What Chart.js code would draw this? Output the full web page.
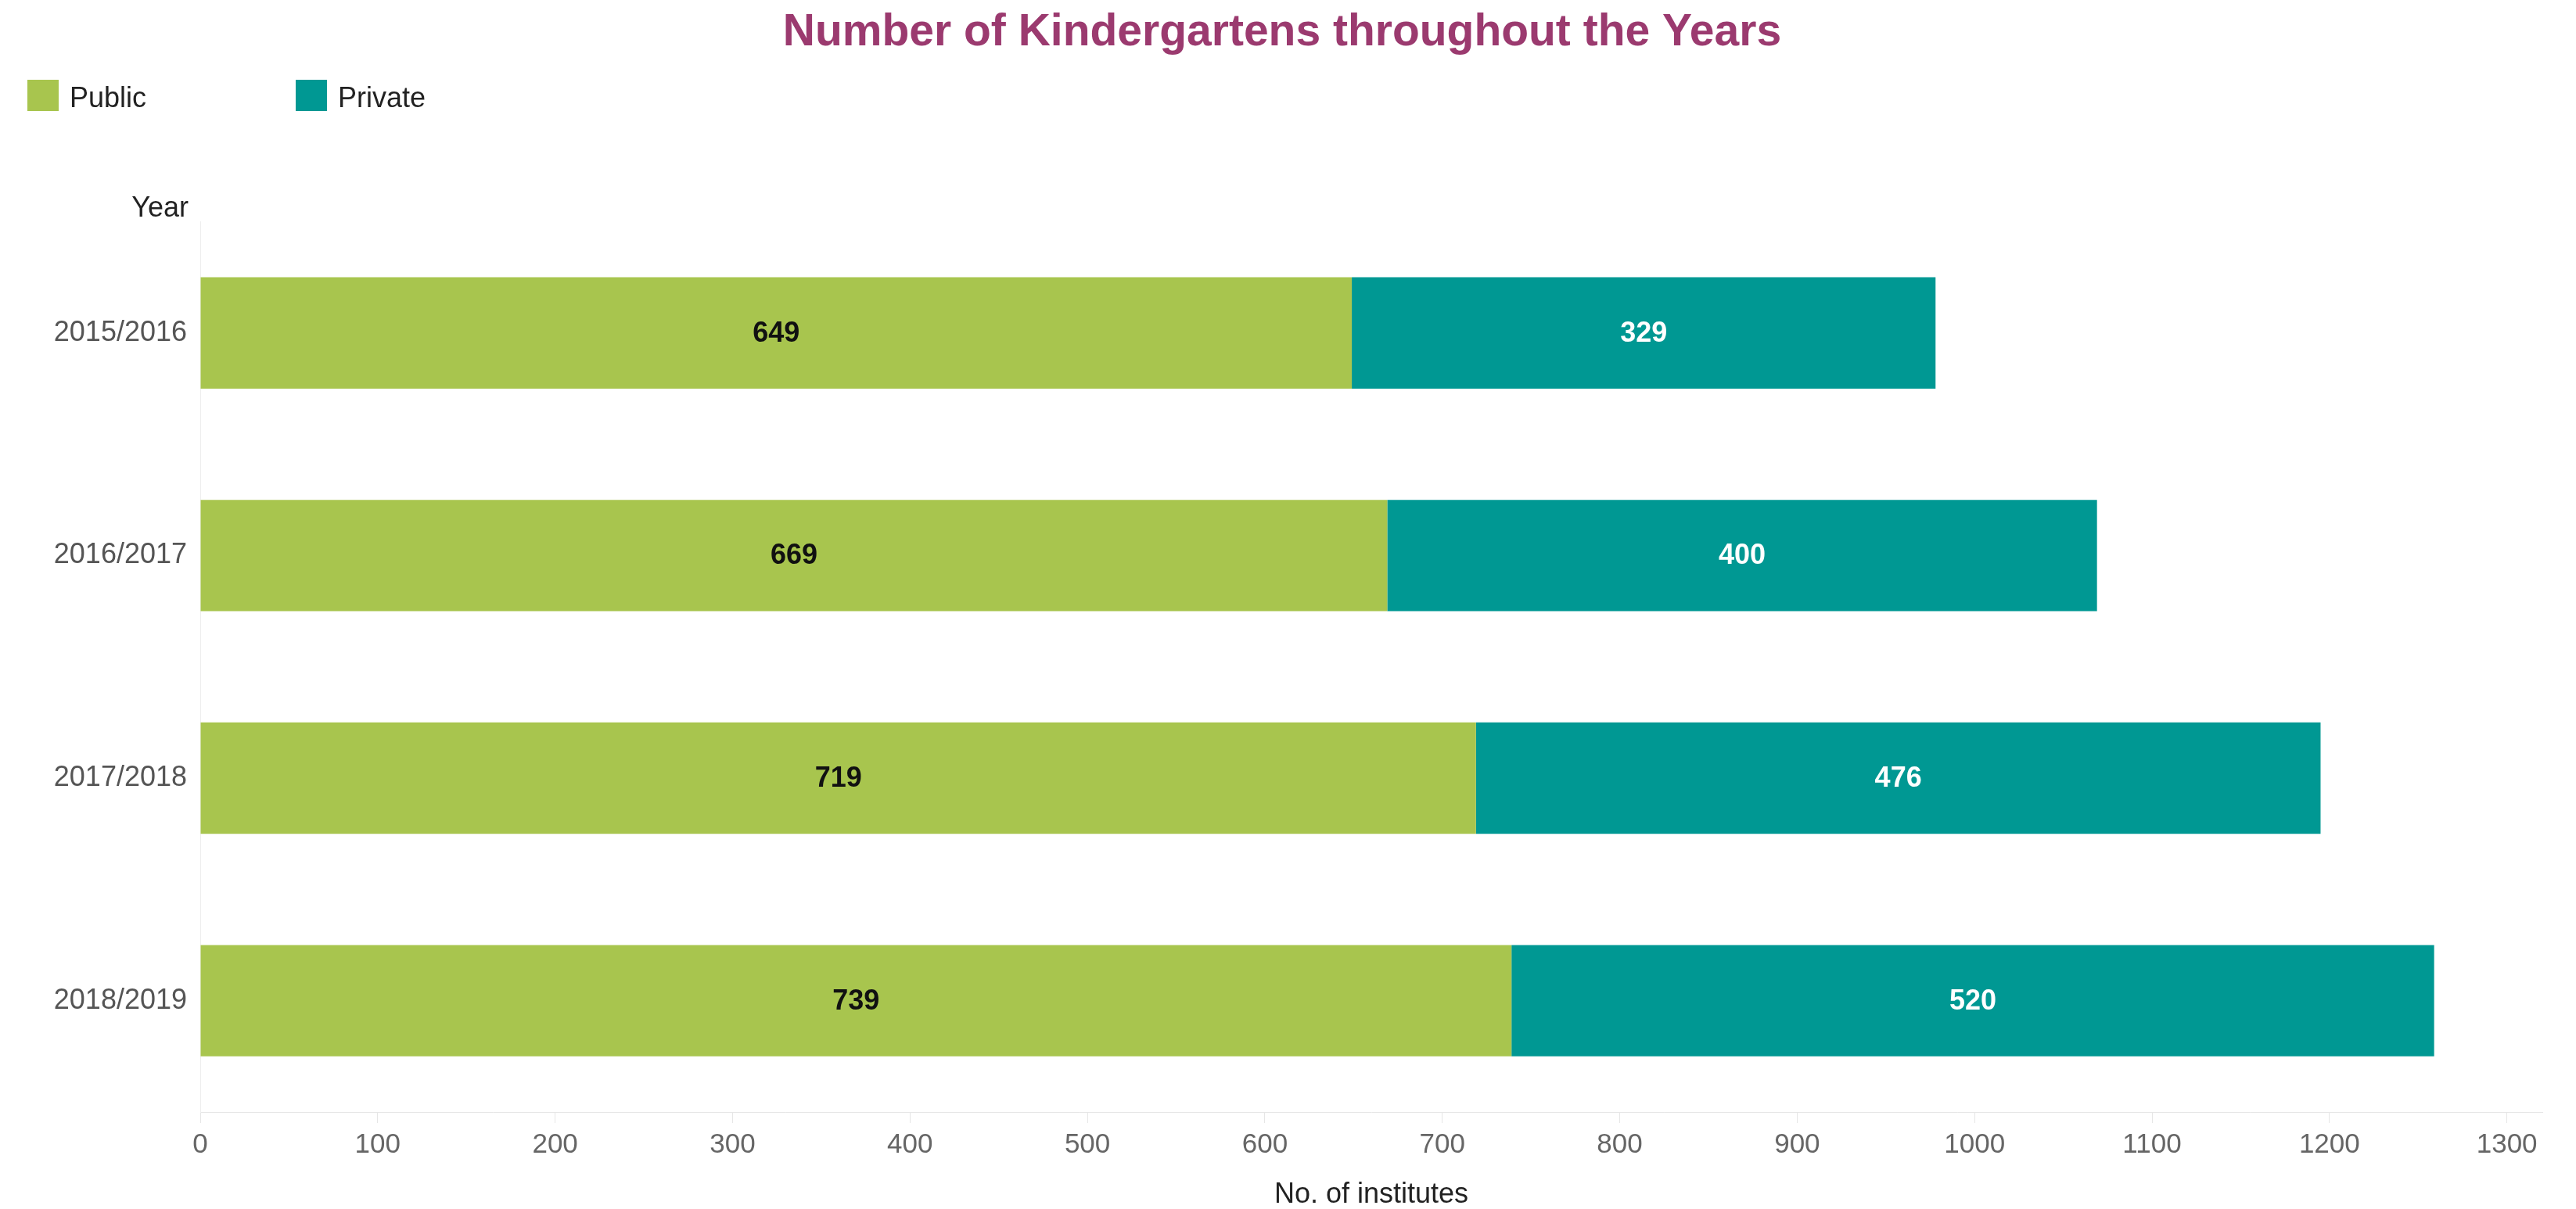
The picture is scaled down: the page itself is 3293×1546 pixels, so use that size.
<!DOCTYPE html>
<html>
<head>
<meta charset="utf-8">
<title>Number of Kindergartens throughout the Years</title>
<script src="https://cdn.jsdelivr.net/npm/chart.js@4.4.1/dist/chart.umd.min.js"></script>
<style>
  html, body { margin: 0; padding: 0; background: #fff; }
  #wrap { width: 3293px; height: 1546px; position: relative; }
</style>
</head>
<body>
<div id="wrap"><canvas id="kgChart"></canvas></div>
<script>
const years = ['2015/2016', '2016/2017', '2017/2018', '2018/2019'];
const seriesNames = ['Public', 'Private'];
const publicCounts = [649, 669, 719, 739];
const privateCounts = [329, 400, 476, 520];
const xTickValues = [0, 100, 200, 300, 400, 500, 600, 700, 800, 900, 1000, 1100, 1200, 1300];

const FONT = '"Liberation Sans", Arial, Helvetica, sans-serif';
const GREEN = '#a8c54e';
const TEAL = '#009893';
const labelColors = ['#111111', '#ffffff'];

Chart.defaults.font.family = FONT;

// value labels in the middle of each bar segment
const barLabels = {
    id: 'barLabels',
    afterDatasetsDraw(chart) {
        const ctx = chart.ctx;
        ctx.save();
        ctx.font = 'bold 36px ' + FONT;
        ctx.textAlign = 'center';
        ctx.textBaseline = 'middle';
        chart.data.datasets.forEach((ds, di) => {
            chart.getDatasetMeta(di).data.forEach((bar, i) => {
                const c = bar.getCenterPoint();
                ctx.fillStyle = labelColors[di];
                ctx.fillText(ds.data[i], c.x, c.y + 1);
            });
        });
        ctx.restore();
    }
};

// legend row at the top left, plus the "Year" caption over the category axis
const topLegend = {
    id: 'topLegend',
    afterDraw(chart) {
        const ctx = chart.ctx;
        const slots = [35, 378];
        ctx.save();
        ctx.font = '36px ' + FONT;
        ctx.textBaseline = 'alphabetic';
        ctx.textAlign = 'left';
        chart.data.datasets.forEach((ds, i) => {
            ctx.fillStyle = ds.backgroundColor;
            ctx.fillRect(slots[i], 102, 40, 40);
            ctx.fillStyle = '#222222';
            ctx.fillText(ds.label, slots[i] + 54, 137);
        });
        ctx.textAlign = 'right';
        ctx.fillText('Year', 241, 277);
        ctx.restore();
    }
};

new Chart(document.getElementById('kgChart'), {
    type: 'bar',
    data: {
        labels: years,
        datasets: [
            {
                label: seriesNames[0],
                data: publicCounts,
                backgroundColor: GREEN,
                borderWidth: 0,
                barPercentage: 0.5,
                categoryPercentage: 1.0
            },
            {
                label: seriesNames[1],
                data: privateCounts,
                backgroundColor: TEAL,
                borderWidth: 0,
                barPercentage: 0.5,
                categoryPercentage: 1.0
            }
        ]
    },
    options: {
        indexAxis: 'y',
        responsive: true,
        maintainAspectRatio: false,
        animation: false,
        layout: {
            padding: { left: 28, right: 43, top: 0, bottom: 0 }
        },
        scales: {
            x: {
                stacked: true,
                min: 0,
                max: 1320,
                afterBuildTicks: (scale) => {
                    scale.ticks = xTickValues.map(v => ({ value: v }));
                },
                afterFit: (scale) => { scale.height = 124; },
                grid: {
                    drawOnChartArea: false,
                    drawTicks: true,
                    tickLength: 14,
                    color: '#e6e6e6'
                },
                border: { display: true, color: '#e6e6e6' },
                ticks: {
                    color: '#666666',
                    font: { size: 35 },
                    padding: 7,
                    maxRotation: 0,
                    autoSkip: false,
                    callback: (value) => String(value)
                },
                title: {
                    display: true,
                    text: 'No. of institutes',
                    color: '#222222',
                    font: { size: 36 },
                    padding: { top: 0, bottom: -4 }
                }
            },
            y: {
                stacked: true,
                afterFit: (scale) => { scale.width = 228; },
                grid: {
                    drawOnChartArea: false,
                    drawTicks: false
                },
                border: { display: true, color: '#eeeeee' },
                ticks: {
                    color: '#555555',
                    font: { size: 36 },
                    padding: 17
                }
            }
        },
        plugins: {
            legend: { display: false },
            tooltip: { enabled: false },
            title: {
                display: true,
                text: 'Number of Kindergartens throughout the Years',
                color: '#9b3a6f',
                font: { size: 57, weight: 'bold' },
                padding: { top: 8, bottom: 207 }
            }
        }
    },
    plugins: [barLabels, topLegend]
});
</script>
</body>
</html>
